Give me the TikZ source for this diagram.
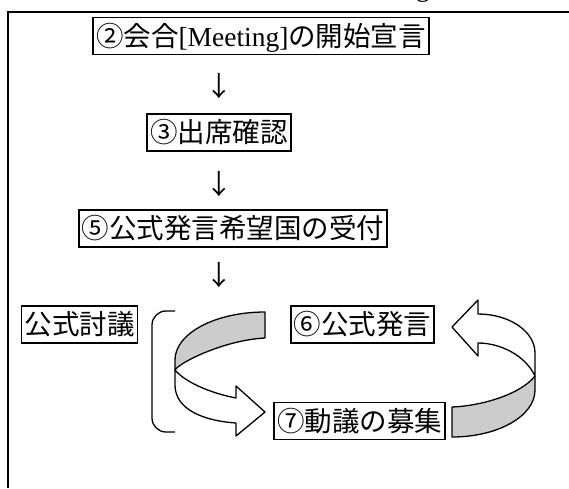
\documentclass[tikz,border=0pt]{standalone}
\usepackage{fontspec}
\setmainfont{Liberation Serif}
\newfontfamily\jp{Noto Sans CJK JP}
\begin{document}
\begin{tikzpicture}[x=1pt,y=-1pt,
  box/.style={draw=black, line width=1.8pt, inner xsep=3pt, inner ysep=4.5pt,
    text height=24pt, text depth=4pt, font=\fontsize{27.5}{30}\selectfont\jp},
  downarrow/.style={inner sep=0pt, font=\fontsize{27.5}{30}\selectfont\jp},
  band/.style={draw=black, line width=1.3pt, line join=round},
  backside/.style={band, fill=gray!40},
  frontside/.style={band, fill=white},
  bracketline/.style={draw=black, line width=1.3pt, rounded corners=14pt},
  frameline/.style={draw=black, line width=2pt}]
\useasboundingbox (0,0) rectangle (569,488);
% cut-off glyph at the top edge (only its lowest part shows)
\node[anchor=base west, inner sep=0pt, font=\fontsize{27.5}{30}\selectfont] (gfrag) at (416,-4) {g};
% frame
\draw[frameline] (569,12) -- (8,12) -- (8,488);
% boxes
\node[box] (b2) at (261,36) {②会合{\rmfamily[Meeting]}の開始宣言};
\node[downarrow] (a1) at (219,86) {↓};
\node[box] (b3) at (219,132.5) {③出席確認};
\node[downarrow] (a2) at (219,184) {↓};
\node[box] (b5) at (233,228.5) {⑤公式発言希望国の受付};
\node[downarrow] (a3) at (219,275) {↓};
\node[box] (kd) at (79.5,324.5) {公式討議};
\node[box] (b6) at (362.5,324.5) {⑥公式発言};
\node[box] (b7) at (359.5,421) {⑦動議の募集};
% bracket
\draw[bracketline] (175,311) -- (152,311) -- (152,432) -- (175,432);
% left curved arrow
\coordinate (lc) at (175,370);
\draw[backside] (265,312) .. controls (215,312) and (175,333.5) .. (175,360)
  -- (lc) .. controls (180,362) and (225,340) .. (265,338) -- cycle;
\draw[frontside] (lc) .. controls (185,382) and (210,393) .. (236,398)
  -- (236,386) -- (265,412) -- (236,436) -- (236,423)
  .. controls (205,421) and (175,410) .. (175,385) -- cycle;
% right curved arrow
\coordinate (rc) at (535,376);
\draw[backside] (452,407) .. controls (480,406) and (520,395) .. (rc)
  -- (535,390) .. controls (535,416) and (498,437) .. (452,437) -- cycle;
\draw[frontside] (535,353) .. controls (535,331.5) and (509.5,314) .. (478,314)
  -- (478,300) -- (452,327) -- (478,356) -- (478,343)
  .. controls (500,343) and (525,355) .. (rc) -- cycle;
\end{tikzpicture}
\end{document}
